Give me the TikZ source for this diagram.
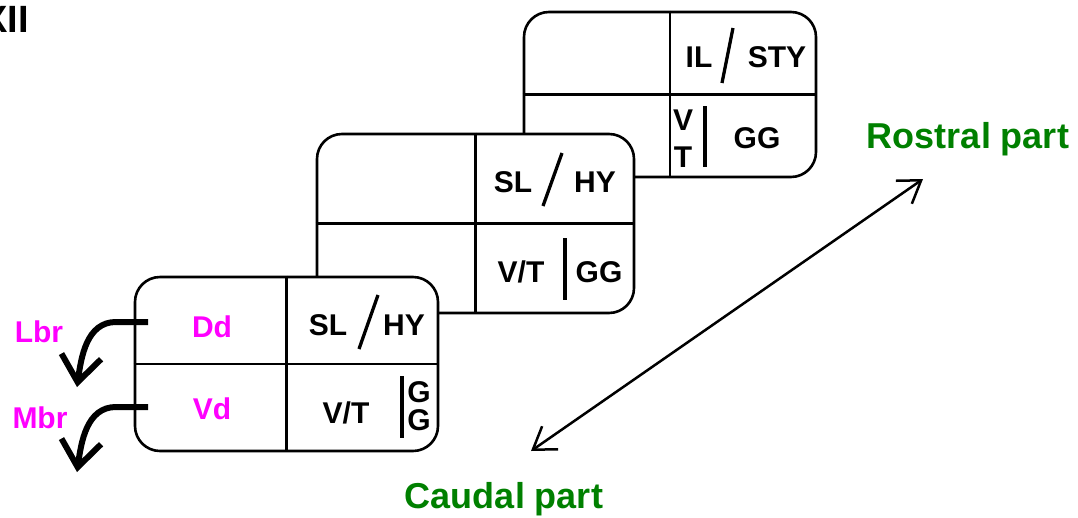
\documentclass[tikz,border=0pt]{standalone}
\usepackage{fontspec}
\setmainfont{Liberation Sans}
\usetikzlibrary{arrows.meta}
\definecolor{mag}{RGB}{255,0,255}
\definecolor{grn}{RGB}{0,128,0}
\tikzset{
  panel/.style={draw, line width=2.6pt, fill=white, rounded corners=25pt, inner sep=0pt},
  divider/.style={line width=2.6pt},
  lbl/.style={font=\bfseries\fontsize{30}{36}\selectfont, inner sep=0pt, anchor=base},
  maglbl/.style={lbl, text=mag},
  partlbl/.style={font=\bfseries\fontsize{36}{43}\selectfont, text=grn, inner sep=0pt, anchor=base},
  sepline/.style={line width=3.3pt},
  branch/.style={line width=6pt, -{Straight Barb[length=26pt,width=40pt]}},
  axis/.style={line width=2.5pt, {Straight Barb[length=21pt,width=28pt]}-{Straight Barb[length=21pt,width=28pt]}},
}
\begin{document}
\begin{tikzpicture}[x=1pt,y=-1pt]
\useasboundingbox (0,0) rectangle (1078,517);
\clip (0,0) rectangle (1078,517);

% XII label (partly cut, as in the reference)
\node[font=\bfseries\fontsize{38}{45}\selectfont, anchor=base east, inner sep=0pt] (xii) at (29,32) {XII};

% back panel
\node[panel, minimum width=292pt, minimum height=165pt] (b3) at (670,94.5) {};
\draw[divider] (b3.north) -- (b3.south);
\draw[divider] (b3.west) -- (b3.east);
\node[lbl] (b3il) at (699,67) {IL};
\node[lbl] (b3sty) at (777,67) {STY};
\draw[sepline] (733,28) -- (722,83);
\node[lbl] (b3v) at (683,130) {V};
\node[lbl] (b3t) at (683,167) {T};
\draw[sepline] (705,106) -- (705,167);
\node[lbl] (b3gg) at (757,148) {GG};

% middle panel
\node[panel, minimum width=317pt, minimum height=179pt] (b2) at (475.5,223.5) {};
\draw[divider] (b2.north) -- (b2.south);
\draw[divider] (b2.west) -- (b2.east);
\node[lbl] (b2sl) at (513,192) {SL};
\node[lbl] (b2hy) at (595,192) {HY};
\draw[sepline] (562,153) -- (543,206);
\node[lbl] (b2vt) at (521,282) {V/T};
\draw[sepline] (565,238) -- (565,300);
\node[lbl] (b2gg) at (599,282) {GG};

% front panel
\node[panel, minimum width=303pt, minimum height=174pt] (b1) at (286.5,364) {};
\draw[divider] (b1.north) -- (b1.south);
\draw[divider] (b1.west) -- (b1.east);
\node[maglbl] (dd) at (212,337) {Dd};
\node[maglbl] (vd) at (212,419) {Vd};
\node[lbl] (b1sl) at (328,335) {SL};
\node[lbl] (b1hy) at (404,335) {HY};
\draw[sepline] (378,295) -- (359,349);
\node[lbl] (b1vt) at (346,423) {V/T};
\draw[sepline] (402,376) -- (402,438);
\node[lbl] (b1g1) at (419,402) {G};
\node[lbl] (b1g2) at (419,430) {G};

% branches
\node[maglbl] (lbr) at (39,342) {Lbr};
\node[maglbl] (mbr) at (40,428) {Mbr};
\coordinate (lbrs) at (148,322);
\coordinate (lbre) at (77,387);
\coordinate (mbrs) at (148,407);
\coordinate (mbre) at (77,472);
\draw[branch] (lbrs) -- ++(-32,0) to[out=180,in=82] (lbre);
\draw[branch] (mbrs) -- ++(-32,0) to[out=180,in=82] (mbre);

% rostro-caudal axis
\node[partlbl] (ros) at (968,148) {Rostral part};
\node[partlbl] (cau) at (504,508) {Caudal part};
\coordinate (caup) at (531,451);
\coordinate (rosp) at (923,179);
\draw[axis] (caup) -- (rosp);
\end{tikzpicture}
\end{document}
